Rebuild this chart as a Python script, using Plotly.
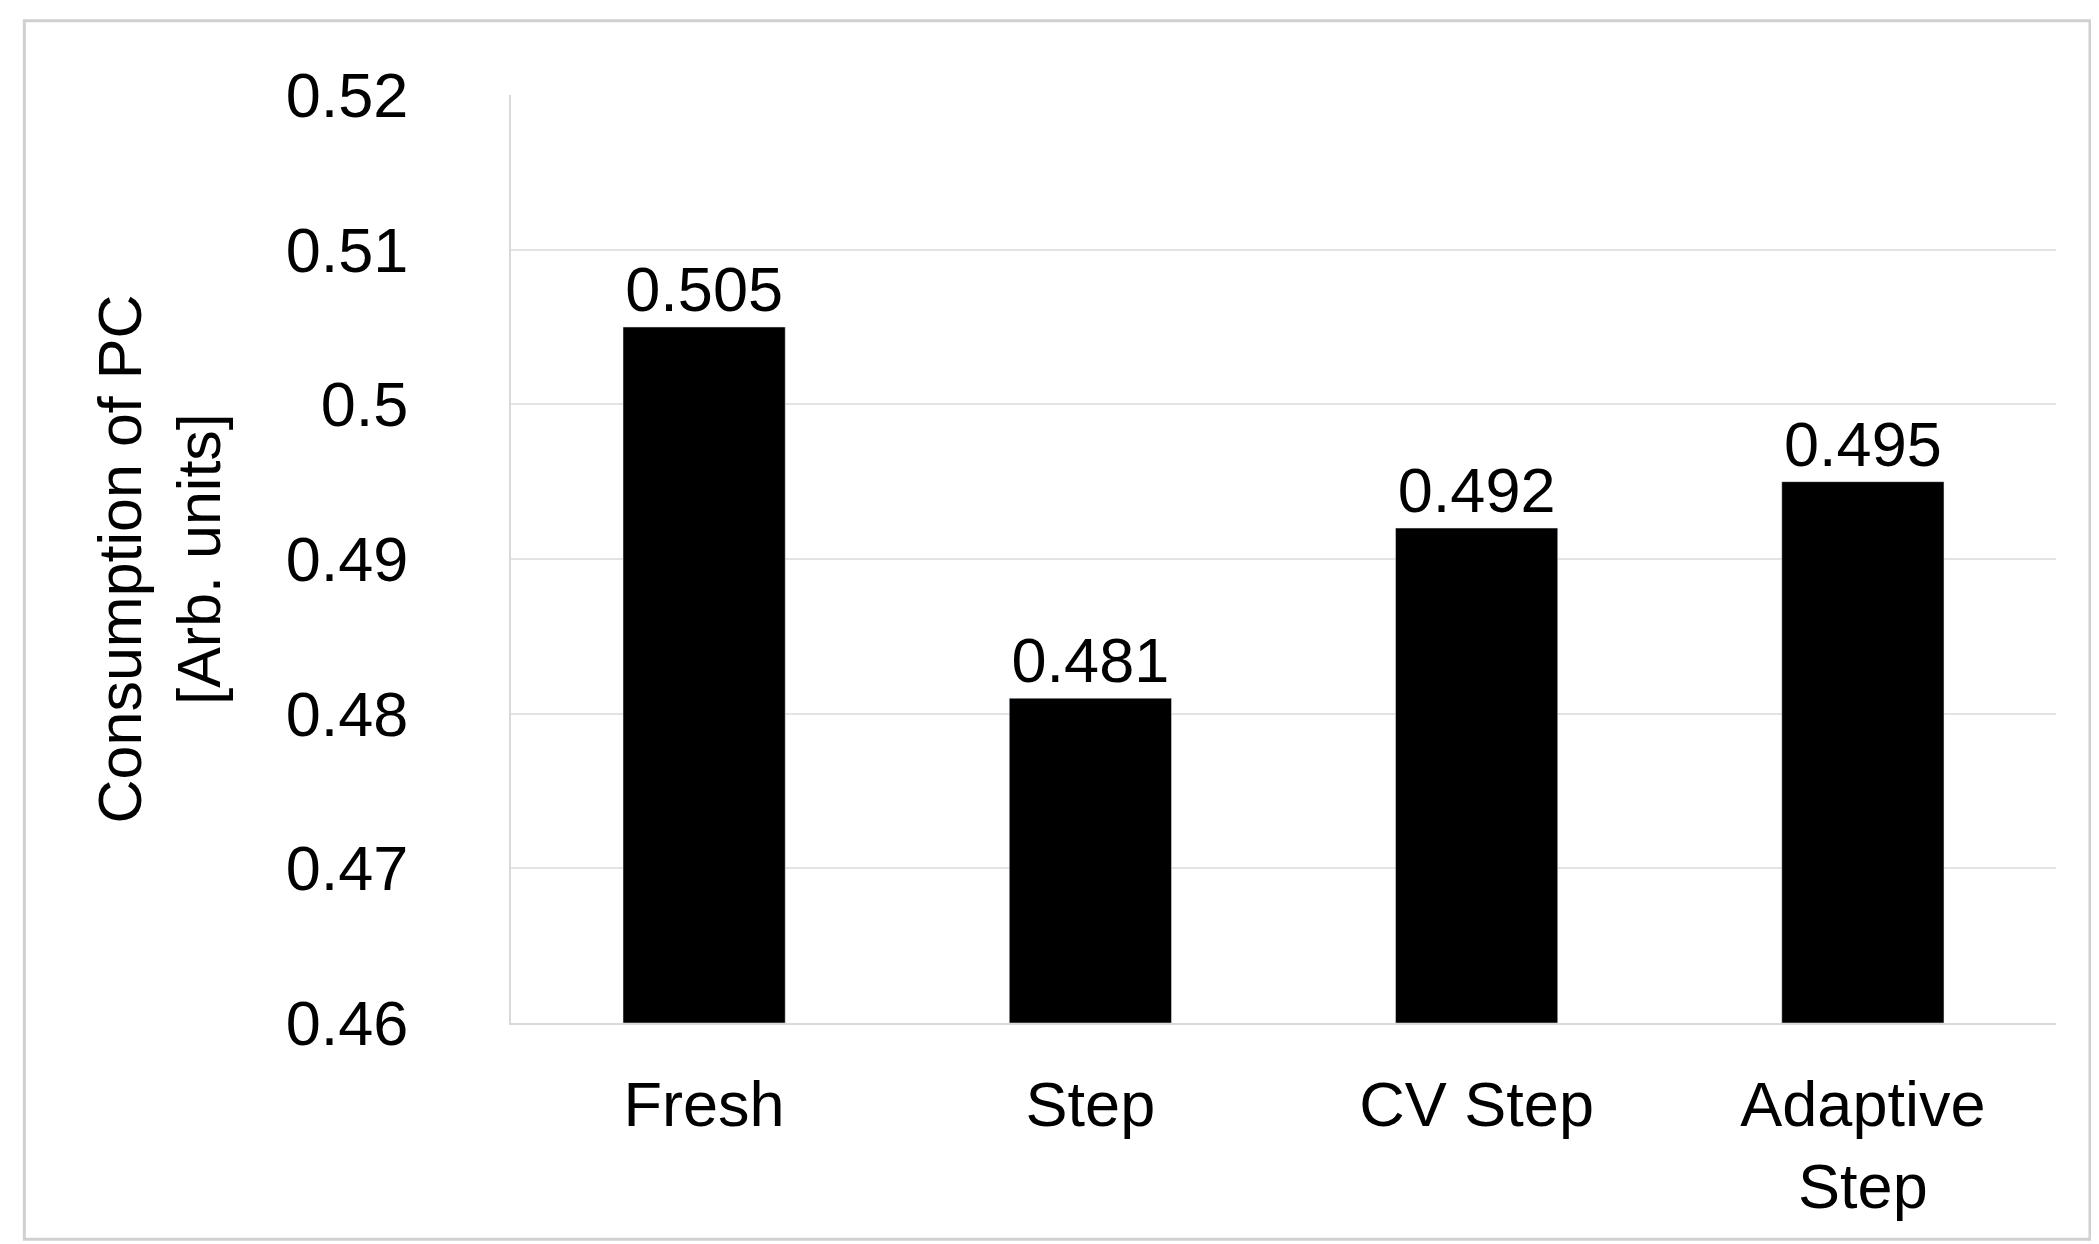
import plotly.graph_objects as go

categories = ["Fresh", "Step", "CV Step", "Adaptive<br>Step"]
values = [0.505, 0.481, 0.492, 0.495]
labels = ["0.505", "0.481", "0.492", "0.495"]
axis_min = 0.46

fig = go.Figure()
fig.add_trace(go.Bar(x=categories, y=[v - axis_min for v in values], base=axis_min,
                     marker_color="black", width=0.42, text=labels,
                     textposition="outside", textfont=dict(size=63, color="black"),
                     cliponaxis=False))

fig.update_layout(
    width=2099, height=1244, plot_bgcolor="white", paper_bgcolor="white",
    font=dict(family="Liberation Sans, Arial", size=63, color="black"),
    margin=dict(l=503, r=51, t=87, b=229), showlegend=False,
    shapes=[dict(type="rect", xref="paper", yref="paper", x0=-0.315, x1=1.022,
                 y0=-0.233, y1=1.08, line=dict(color="#d0d0d0", width=3))],
)
fig.update_xaxes(showline=True, linecolor="#d9d9d9", linewidth=2, ticks="",
                 tickfont=dict(size=63), ticklabelstandoff=25)
fig.update_yaxes(range=[0.46, 0.52], tickvals=[0.46, 0.47, 0.48, 0.49, 0.5, 0.51, 0.52],
                 ticktext=["0.46", "0.47", "0.48", "0.49", "0.5", "0.51", "0.52"],
                 showgrid=True, gridcolor="#e3e3e3", gridwidth=2, zeroline=False,
                 showline=True, linecolor="#d9d9d9", linewidth=2, ticklabelstandoff=88,
                 tickfont=dict(size=63),
                 title=dict(text="Consumption of PC<br>[Arb. units]", font=dict(size=61), standoff=45))
fig.write_html("out.html")
